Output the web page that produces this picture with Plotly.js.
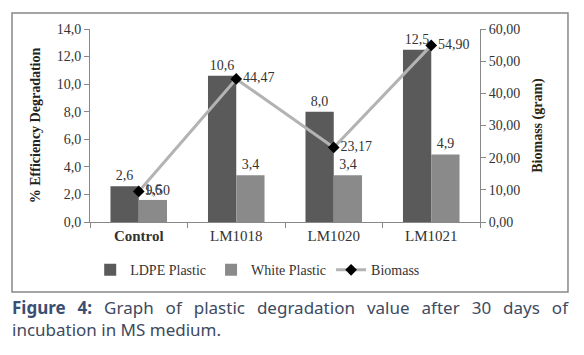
<!DOCTYPE html>
<html><head><meta charset="utf-8">
<script src="https://cdn.plot.ly/plotly-3.0.1.min.js"></script>
<style>
body{margin:0;padding:0;background:#fff;}
#wrap{position:relative;width:584px;height:355px;}
#chart{position:absolute;left:0;top:0;width:584px;height:355px;}
#cap{position:absolute;left:12px;top:297px;width:556px;font-family:"Noto Sans",sans-serif;font-size:17px;line-height:22px;color:#3d4a60;text-align:justify;text-align-last:left;}
#cap b{color:#3b4f73;}
</style></head>
<body>
<div id="wrap"><div id="chart"></div>
<div id="cap"><b>Figure 4:</b> Graph of plastic degradation value after 30 days of incubation in MS medium.</div></div>
<script>
var categories = ["Control","LM1018","LM1020","LM1021"];
var tickLabels = ["<b>Control</b>","LM1018","LM1020","LM1021"];
var ldpe = [2.6, 10.6, 8.0, 12.5];
var white = [1.6, 3.4, 3.4, 4.9];
var biomass = [9.50, 44.47, 23.17, 54.90];

var serif = "'Liberation Serif', 'Times New Roman', serif";
var traces = [
 {type:"bar", name:"LDPE Plastic", x:categories, y:ldpe, marker:{color:"#5a5a5a"},
  text:ldpe, texttemplate:"%{y:.1f}", textposition:"outside", cliponaxis:false,
  textfont:{family:serif,size:14,color:"#333"}},
 {type:"bar", name:"White Plastic", x:categories, y:white, marker:{color:"#8a8a8a"},
  text:white, texttemplate:"%{y:.1f}", textposition:"outside", cliponaxis:false,
  textfont:{family:serif,size:14,color:"#333"}},
 {type:"scatter", mode:"lines+markers+text", name:"Biomass", x:categories, y:biomass, yaxis:"y2",
  line:{color:"#b3b3b3",width:3}, marker:{symbol:"diamond",color:"#000",size:9},
  text:biomass, texttemplate:"%{y:.2f}", textposition:"middle right", cliponaxis:false,
  textfont:{family:serif,size:14,color:"#333"}}
];
var layout = {
 width:584, height:355, separators:", ",
 margin:{l:90,r:104,t:29,b:133},
 paper_bgcolor:"#fff", plot_bgcolor:"#fff",
 font:{family:serif,size:14,color:"#333"},
 barmode:"group", bargap:0.42, bargroupgap:0,
 showlegend:true,
 legend:{orientation:"h", x:0.43, xanchor:"center", y:-0.25, yanchor:"middle",
   font:{family:serif,size:14,color:"#333"}, traceorder:"normal"},
 xaxis:{type:"category", tickvals:categories, ticktext:tickLabels, tickson:"boundaries",
   ticks:"outside", ticklen:5, tickcolor:"#888", showline:true, linecolor:"#888",
   showgrid:false, tickfont:{family:serif,size:15,color:"#333"}},
 yaxis:{range:[0,14], dtick:2, tickformat:".1f", ticks:"outside", ticklen:5, tickcolor:"#888",
   showline:true, linecolor:"#888", showgrid:false, zeroline:false,
   tickfont:{family:serif,size:14,color:"#333"},
   title:{text:"<b>% Efficiency Degradation</b>", font:{family:serif,size:14,color:"#222"}, standoff:12}},
 yaxis2:{range:[0,60], dtick:10, tickformat:".2f", overlaying:"y", side:"right",
   ticks:"outside", ticklen:5, tickcolor:"#888", showline:true, linecolor:"#888",
   showgrid:false, zeroline:false, tickfont:{family:serif,size:14,color:"#333"},
   title:{text:"<b>Biomass (gram)</b>", font:{family:serif,size:14,color:"#2a2410"}, standoff:12}},
 shapes:[{type:"rect", xref:"paper", yref:"paper", x0:-0.2, x1:1.2256, y0:-0.363, y1:1.083,
   line:{color:"#888",width:1.5}, fillcolor:"rgba(0,0,0,0)"}]
};
Plotly.newPlot("chart", traces, layout, {displayModeBar:false, staticPlot:true});
</script>
</body></html>
